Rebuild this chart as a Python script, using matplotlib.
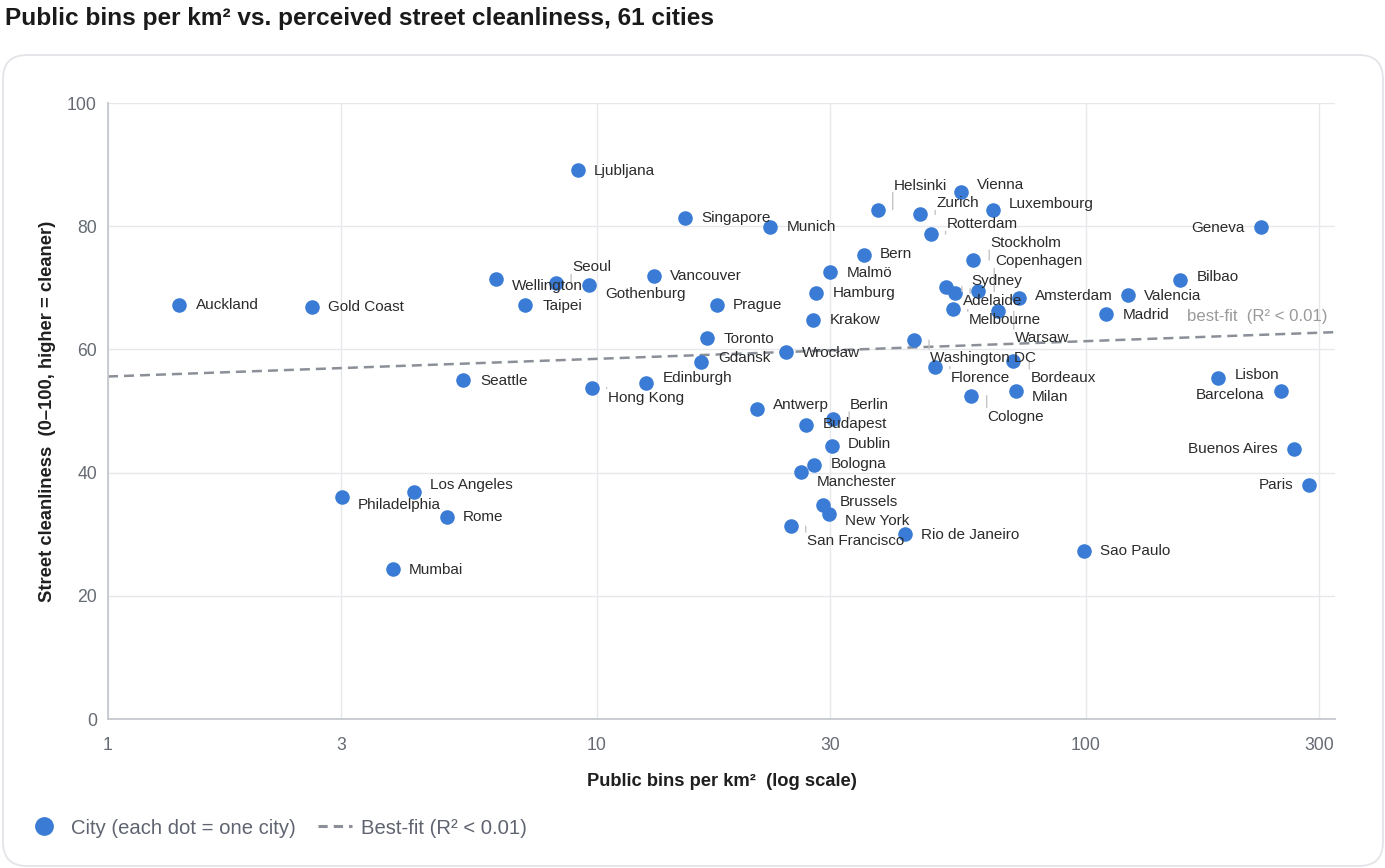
import numpy as np
import matplotlib.pyplot as plt
from matplotlib.patches import FancyBboxPatch
from matplotlib.lines import Line2D
from matplotlib.ticker import NullLocator
from matplotlib.transforms import offset_copy, IdentityTransform

plt.rcParams['font.family'] = ['Liberation Sans', 'DejaVu Sans']

# data
cities = ["Auckland", "Gold Coast", "Ljubljana", "Wellington", "Seoul", "Gothenburg",
          "Taipei", "Seattle", "Singapore", "Munich", "Vancouver", "Prague", "Toronto",
          "Gdansk", "Wrocław", "Edinburgh", "Hong Kong", "Malmö", "Bern", "Hamburg",
          "Krakow", "Helsinki", "Vienna", "Zurich", "Rotterdam", "Stockholm",
          "Copenhagen", "Sydney", "Adelaide", "Melbourne", "Amsterdam", "Warsaw",
          "Washington DC", "Florence", "Bordeaux", "Milan", "Cologne", "Luxembourg",
          "Geneva", "Bilbao", "Valencia", "Madrid", "Lisbon", "Barcelona",
          "Buenos Aires", "Paris", "Sao Paulo", "Antwerp", "Berlin", "Budapest",
          "Dublin", "Bologna", "Manchester", "Brussels", "New York", "San Francisco",
          "Rio de Janeiro", "Philadelphia", "Los Angeles", "Rome", "Mumbai"]

bins_per_km2 = [1.40, 2.61, 9.14, 6.22, 8.25, 9.63,
                7.13, 5.32, 15.1, 22.6, 13.1, 17.6, 16.8,
                16.3, 24.4, 12.6, 9.75, 29.9, 35.1, 28.0,
                27.6, 37.5, 55.5, 45.8, 48.1, 58.8,
                60.2, 54.0, 51.7, 53.4, 72.8, 66.0,
                44.5, 49.1, 71.0, 71.9, 58.1, 64.5,
                228, 156, 122, 110, 186, 250,
                266, 286, 99.1, 21.2, 30.4, 26.8,
                30.2, 27.8, 26.1, 29.0, 29.8, 24.9,
                42.7, 3.01, 4.22, 4.93, 3.82]

cleanliness = [67.2, 66.9, 89.1, 71.4, 70.7, 70.5,
               67.2, 55.1, 81.4, 79.9, 71.9, 67.2, 61.8,
               58.0, 59.6, 54.6, 53.8, 72.6, 75.4, 69.2,
               64.7, 82.7, 85.5, 81.9, 78.7, 74.5,
               69.4, 69.1, 70.2, 66.5, 68.4, 66.2,
               61.5, 57.2, 58.1, 53.2, 52.5, 82.6,
               79.8, 71.2, 68.9, 65.8, 55.3, 53.2,
               43.8, 38.0, 27.3, 50.3, 48.7, 47.7,
               44.3, 41.3, 40.1, 34.7, 33.2, 31.3,
               30.1, 36.0, 36.9, 32.8, 24.3]

# best-fit line as drawn (R² < 0.01)
fit_x = [1, 323]
fit_y = [55.6, 62.8]

x_ticks = [1, 3, 10, 30, 100, 300]
y_ticks = [0, 20, 40, 60, 80, 100]

# label placement: (dx px, dy px downwards, leader line)
label_pos = {
    "Auckland": (17, -1, False), "Gold Coast": (16, -1, False), "Ljubljana": (16, 0, False),
    "Wellington": (16, 6, False), "Seoul": (16, -17, True), "Gothenburg": (16, 8, True),
    "Taipei": (17, 0, False), "Seattle": (17, 0, False), "Singapore": (17, -1, False),
    "Munich": (17, -1, False), "Vancouver": (16, -1, False), "Prague": (16, -1, False),
    "Toronto": (16, 0, False), "Gdansk": (17, -5, False), "Wrocław": (16, 0, False),
    "Edinburgh": (17, -6, False), "Hong Kong": (16, 9, True), "Malmö": (17, 0, False),
    "Bern": (16, -2, False), "Hamburg": (17, -1, False), "Krakow": (17, -1, False),
    "Helsinki": (16, -25, True), "Vienna": (16, -8, True), "Zurich": (16, -12, True),
    "Rotterdam": (16, -11, True), "Stockholm": (17, -18, True), "Copenhagen": (17, -31, True),
    "Sydney": (16, -13, True), "Adelaide": (17, 13, True), "Melbourne": (16, 10, True),
    "Amsterdam": (16, -3, False), "Warsaw": (17, 26, True), "Washington DC": (16, 17, True),
    "Florence": (16, 10, True), "Bordeaux": (17, 16, True), "Milan": (16, 5, False),
    "Cologne": (17, 20, True), "Luxembourg": (16, -7, True), "Geneva": (-16, 0, False),
    "Bilbao": (16, -4, False), "Valencia": (16, 0, False), "Madrid": (17, 0, False),
    "Lisbon": (17, -4, False), "Barcelona": (-16, 3, False), "Buenos Aires": (-16, -1, False),
    "Paris": (-16, -1, False), "Sao Paulo": (16, -1, False), "Antwerp": (16, -5, False),
    "Berlin": (17, -15, True), "Budapest": (16, -2, False), "Dublin": (16, -3, False),
    "Bologna": (17, -2, False), "Manchester": (16, 9, False), "Brussels": (17, -4, False),
    "New York": (16, 6, False), "San Francisco": (16, 14, True), "Rio de Janeiro": (16, 0, False),
    "Philadelphia": (16, 7, False), "Los Angeles": (16, -8, False), "Rome": (16, -1, False),
    "Mumbai": (16, 0, False),
}

BLUE = "#3a7bd5"
W, H = 1385, 868

fig = plt.figure(figsize=(W / 100, H / 100), dpi=100)

# rounded card behind the plot
card = FancyBboxPatch((3, H - 866), 1380, 811, boxstyle="round,pad=0,rounding_size=24",
                      transform=IdentityTransform(), facecolor="none",
                      edgecolor="#e2e4e8", lw=1.3)
fig.add_artist(card)

ax = fig.add_axes([108 / W, 1 - 719 / H, (1335 - 108) / W, (719 - 103) / H])
ax.set_xscale("log")
ax.set_xlim(1, 323)
ax.set_ylim(0, 100)
ax.set_xticks(x_ticks)
ax.set_xticklabels([str(t) for t in x_ticks])
ax.xaxis.set_minor_locator(NullLocator())
ax.set_yticks(y_ticks)
ax.tick_params(length=0, labelsize=12.7, labelcolor="#666b73")
ax.tick_params(axis="x", pad=13)
ax.tick_params(axis="y", pad=8)
ax.grid(True, color="#e7e8eb", lw=1)
ax.set_axisbelow(True)
for s in ["top", "right"]:
    ax.spines[s].set_visible(False)
for s in ["left", "bottom"]:
    ax.spines[s].set_color("#c5c8ce")
    ax.spines[s].set_linewidth(1.3)

ax.plot(fit_x, fit_y, ls=(0, (4, 2.4)), color="#8a8f98", lw=1.8, zorder=2)
ax.text(312, 65.3, "best-fit  (R² < 0.01)", ha="right", va="center",
        color="#9a9a9a", fontsize=12.1)

ax.scatter(bins_per_km2, cleanliness, s=110, color=BLUE, linewidths=0, zorder=3)

for name, x, y in zip(cities, bins_per_km2, cleanliness):
    dx, dy, leader = label_pos[name]
    ax.annotate(name, (x, y), xytext=(dx, -dy - 1), textcoords="offset pixels",
                ha="left" if dx > 0 else "right", va="center",
                fontsize=11, color="#2b2b2b", zorder=4)
    if leader and abs(dy) >= 8:
        tr = offset_copy(ax.transData, fig=fig, x=dx - 1, y=0, units="dots")
        start = -dy + (8 if dy > 0 else -8)
        ax.annotate("", xy=(x, y), xycoords=tr, xytext=(0, start),
                    textcoords="offset pixels",
                    arrowprops=dict(arrowstyle="-", color="#c4c4c4", lw=1,
                                    shrinkA=0, shrinkB=0))

ax.set_xlabel("Public bins per km²  (log scale)", fontsize=13.2, fontweight="bold",
              color="#1f1f1f")
ax.xaxis.set_label_coords(0.5, -(781 - 719) / (719 - 103))
ax.xaxis.label.set_va("center")
ax.set_ylabel("Street cleanliness  (0–100, higher = cleaner)", fontsize=13.2,
              fontweight="bold", color="#1f1f1f")
ax.yaxis.set_label_coords(-(108 - 48) / (1335 - 108), 0.5)
ax.yaxis.label.set_va("center")

fig.text(5 / W, 1 - 18 / H, "Public bins per km² vs. perceived street cleanliness, 61 cities",
         fontsize=17.6, fontweight="bold", color="#1a1a1a", va="center", ha="left")

handles = [Line2D([], [], marker="o", ls="", ms=12.5, color=BLUE),
           Line2D([], [], ls=(0, (3, 2)), lw=2.2, color="#8a8f98")]
fig.legend(handles, ["City (each dot = one city)", "Best-fit (R² < 0.01)"],
           loc="center left", bbox_to_anchor=(27 / W, 1 - 828 / H), ncol=2,
           frameon=False, fontsize=14.6, labelcolor="#5f6470",
           handlelength=1.7, handletextpad=0.45, columnspacing=1.1,
           borderpad=0, borderaxespad=0)

fig.savefig("out.png", dpi=100)
